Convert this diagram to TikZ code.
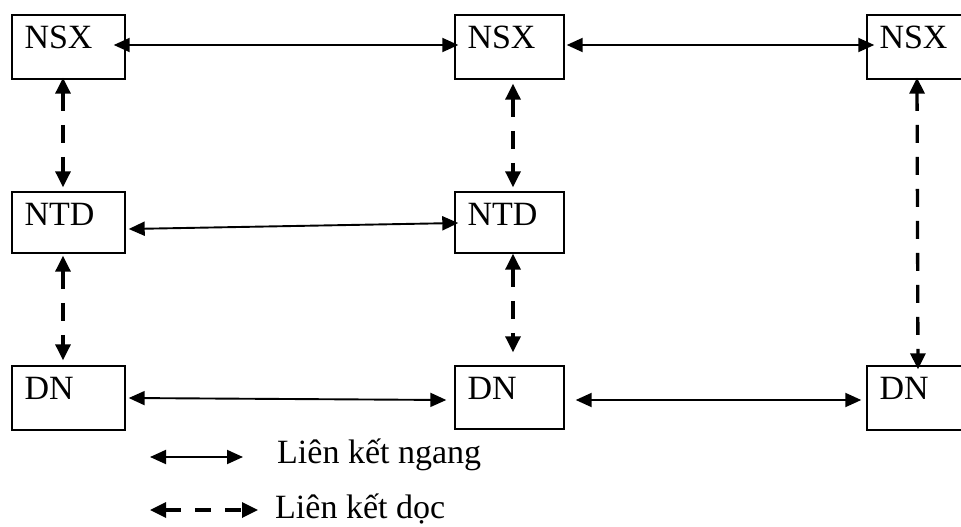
\documentclass[tikz,border=0pt]{standalone}
\usepackage{fontspec}
\setmainfont{Liberation Serif}
\usetikzlibrary{arrows.meta,calc}
\begin{document}
\begin{tikzpicture}[x=1pt,y=-1pt,
  box/.style={draw=black,line width=1.4pt,rectangle,inner sep=0pt,minimum width=#1},
  box/.default=113pt,
  harr/.style={line width=1.9pt,{Triangle[length=16pt,width=14pt]}-{Triangle[length=16pt,width=14pt]}},
  varr/.style={line width=3.3pt,dash pattern=on 18pt off 14pt,{Triangle[length=16pt,width=15pt]}-{Triangle[length=16pt,width=15pt]}},
  lgarr/.style={line width=3.3pt,dash pattern=on 16pt off 14pt,{Triangle[length=16pt,width=15pt]}-{Triangle[length=16pt,width=15pt]}},
  txt/.style={font=\fontsize{34}{40}\selectfont},
  lab/.style={label={[anchor=base west,inner sep=0pt,xshift=13pt,yshift=-34pt,txt]north west:#1}}
]
\useasboundingbox (0,0) rectangle (961,527);
\clip (0,0) rectangle (961,527);
% boxes
\node[box=113pt,minimum height=64pt,lab=NSX] (nsxA) at (68.5,47) {};
\node[box=113pt,minimum height=61pt,lab=NTD] (ntdA) at (68.5,222.5) {};
\node[box=113pt,minimum height=64pt,lab=DN]  (dnA)  at (68.5,398) {};
\node[box=109pt,minimum height=64pt,lab=NSX] (nsxB) at (509.5,47) {};
\node[box=109pt,minimum height=61pt,lab=NTD] (ntdB) at (509.5,222.5) {};
\node[box=109pt,minimum height=63pt,lab=DN]  (dnB)  at (509.5,397.5) {};
\node[box=109pt,minimum height=64pt,lab=NSX] (nsxC) at (921.5,47) {};
\node[box=109pt,minimum height=64pt,lab=DN]  (dnC)  at (921.5,398) {};
% horizontal links
\draw[harr] ($(nsxA.east)+(-12,-2)$) -- ($(nsxB.west)+(4,-2)$);
\draw[harr] ($(nsxB.east)+(2,-2)$) -- ($(nsxC.west)+(8,-2)$);
\draw[harr] ($(ntdA.east)+(3,6.5)$) -- ($(ntdB.west)+(4,0.5)$);
\draw[harr] ($(dnA.east)+(3,0)$) -- ($(dnB.west)+(-8,2.5)$);
\draw[harr] ($(dnB.east)+(11,2.5)$) -- ($(dnC.west)+(-5,2)$);
% vertical links
\draw[varr] ($(nsxA.south)+(-5.5,-2)$) -- ($(ntdA.north)+(-5.5,-4)$);
\draw[varr] ($(ntdA.south)+(-5.5,2)$) -- ($(dnA.north)+(-5.5,-5)$);
\draw[varr] ($(nsxB.south)+(3.5,4)$) -- ($(ntdB.north)+(3.5,-4)$);
\draw[varr] ($(ntdB.south)+(3.5,0)$) -- ($(dnB.north)+(3.5,-13)$);
\draw[varr] ($(nsxC.south)+(-4.5,-2)$) -- ($(dnC.north)+(-3.5,4)$);
% legend
\coordinate (l1a) at (150,457);
\coordinate (l1b) at (243,457);
\coordinate (l2a) at (150,510);
\coordinate (l2b) at (258,510);
\draw[harr] (l1a) -- (l1b);
\draw[lgarr] (l2a) -- (l2b);
\node[txt,anchor=base west,inner sep=0pt] (t1) at (277,463) {Liên kết ngang};
\node[txt,anchor=base west,inner sep=0pt] (t2) at (275,518) {Liên kết dọc};
\end{tikzpicture}
\end{document}
